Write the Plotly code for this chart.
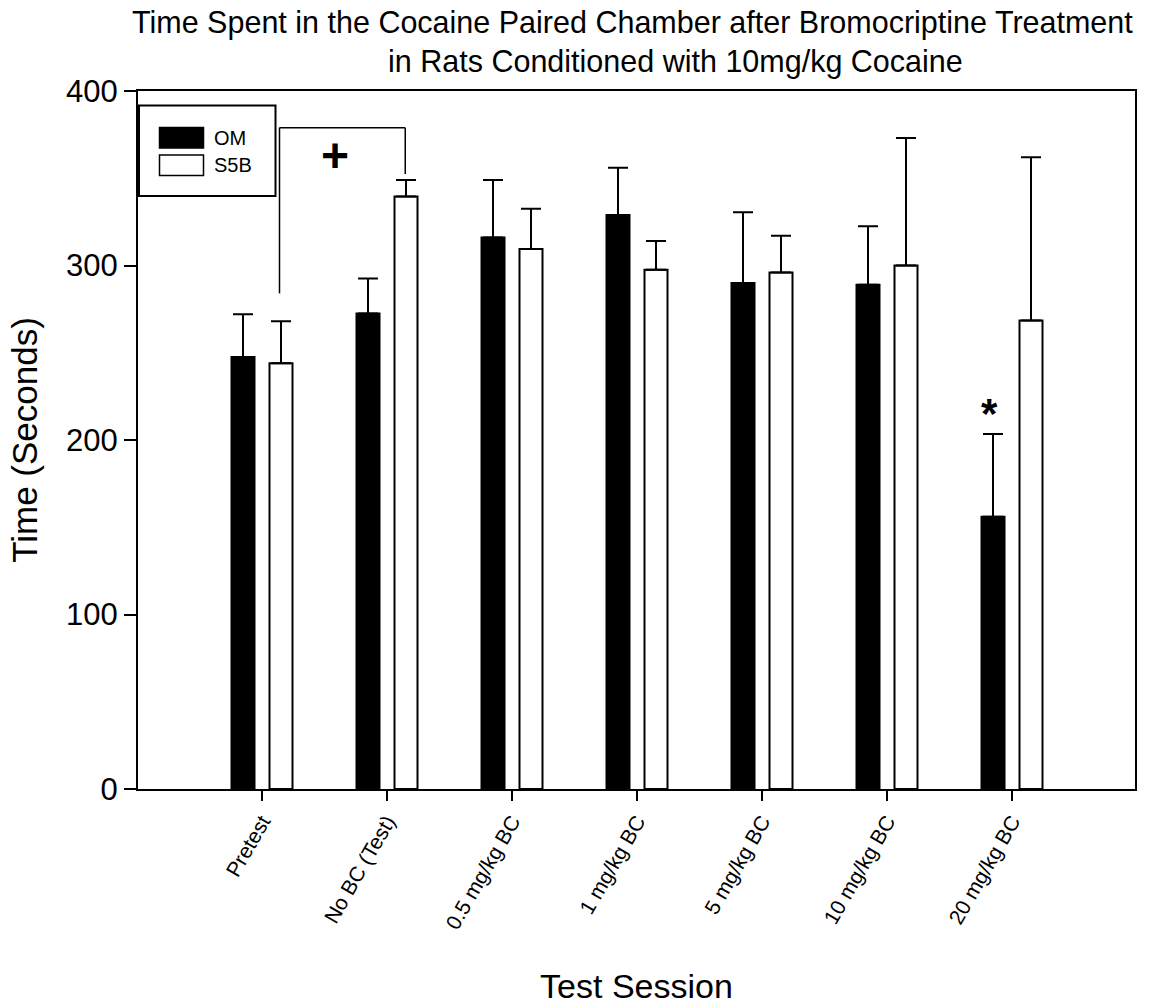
import plotly.graph_objects as go

categories = ["Pretest", "No BC (Test)", "0.5 mg/kg BC", "1 mg/kg BC",
              "5 mg/kg BC", "10 mg/kg BC", "20 mg/kg BC"]
om_mean = [247.5, 272.5, 316, 329, 290, 289, 156]
om_err = [24.5, 20, 33, 27, 40.5, 33.5, 47.5]
s5b_mean = [244, 339.5, 309.5, 297.5, 296, 300, 268.5]
s5b_err = [24, 9.5, 23, 16.5, 21, 73, 93.5]
y_ticks = [0, 100, 200, 300, 400]

FONT = "Liberation Sans, Arial, sans-serif"
W, H = 1151, 1005
L, R, T, B = 138, 16, 91, 216
PW, PH = W - L - R, H - T - B


def px(x):
    return (x - L) / PW


def py(y):
    return (H - B - y) / PH


fig = go.Figure()
fig.add_trace(go.Bar(
    x=categories, y=om_mean, name="OM",
    marker=dict(color="black", line=dict(color="black", width=2)),
    offset=-0.244, width=0.184,
    error_y=dict(type="data", array=om_err, arrayminus=[0] * len(om_err),
                 symmetric=False, color="black", thickness=2, width=10),
    showlegend=False,
))
fig.add_trace(go.Bar(
    x=categories, y=s5b_mean, name="S5B",
    marker=dict(color="white", line=dict(color="black", width=2)),
    offset=0.06, width=0.184,
    error_y=dict(type="data", array=s5b_err, arrayminus=[0] * len(s5b_err),
                 symmetric=False, color="black", thickness=2, width=10),
    showlegend=False,
))

shapes = []
# significance bracket
shapes.append(dict(type="line", xref="x", yref="y", x0=0.14, x1=0.14, y0=284, y1=379,
                   line=dict(color="black", width=1.5)))
shapes.append(dict(type="line", xref="x", yref="y", x0=0.14, x1=1.146, y0=379, y1=379,
                   line=dict(color="black", width=1.5)))
shapes.append(dict(type="line", xref="x", yref="y", x0=1.146, x1=1.146, y0=352.5, y1=379,
                   line=dict(color="black", width=1.5)))
# legend box
shapes.append(dict(type="rect", xref="paper", yref="paper",
                   x0=px(139), x1=px(275.5), y0=py(196), y1=py(105.5),
                   line=dict(color="black", width=2), fillcolor="white", layer="above"))
shapes.append(dict(type="rect", xref="paper", yref="paper",
                   x0=px(159.5), x1=px(203.5), y0=py(148), y1=py(127.5),
                   line=dict(color="black", width=1.5), fillcolor="black", layer="above"))
shapes.append(dict(type="rect", xref="paper", yref="paper",
                   x0=px(159.5), x1=px(203.5), y0=py(175.5), y1=py(155),
                   line=dict(color="black", width=1.5), fillcolor="white", layer="above"))

annotations = [
    dict(text="OM", xref="paper", yref="paper", x=px(212), y=py(138), xanchor="left",
         yanchor="middle", showarrow=False, font=dict(family=FONT, size=20, color="black")),
    dict(text="S5B", xref="paper", yref="paper", x=px(212), y=py(165), xanchor="left",
         yanchor="middle", showarrow=False, font=dict(family=FONT, size=20, color="black")),
    dict(text="<b>+</b>", xref="x", yref="y", x=0.584, y=363, xanchor="center",
         yanchor="middle", showarrow=False, font=dict(family=FONT, size=48, color="black")),
    dict(text="<b>*</b>", xref="x", yref="y", x=5.816, y=215, xanchor="center",
         yanchor="middle", showarrow=False, font=dict(family=FONT, size=42, color="black")),
    dict(text="Time Spent in the Cocaine Paired Chamber after Bromocriptine Treatment",
         xref="paper", yref="paper", x=px(632), y=py(22), xanchor="center", yanchor="middle",
         showarrow=False, font=dict(family=FONT, size=30.5, color="black")),
    dict(text="in Rats Conditioned with 10mg/kg Cocaine",
         xref="paper", yref="paper", x=px(675), y=py(62), xanchor="center", yanchor="middle",
         showarrow=False, font=dict(family=FONT, size=30.5, color="black")),
]

fig.update_layout(
    width=W, height=H,
    margin=dict(l=L, r=R, t=T, b=B, pad=0, autoexpand=False),
    paper_bgcolor="white", plot_bgcolor="white",
    barmode="overlay",
    font=dict(family=FONT, color="black"),
    shapes=shapes, annotations=annotations,
    xaxis=dict(
        type="category", range=[-0.992, 6.984], automargin=False,
        showgrid=False, zeroline=False,
        showline=True, linecolor="black", linewidth=2, mirror=True,
        ticks="outside", ticklen=10, tickwidth=2, tickcolor="black",
        tickangle=-60, tickfont=dict(family=FONT, size=21, color="black"),
        title=dict(text="Test Session", font=dict(family=FONT, size=34, color="black"),
                   standoff=50),
    ),
    yaxis=dict(
        range=[0, 400], tickvals=y_ticks, automargin=False,
        showgrid=False, zeroline=False,
        showline=True, linecolor="black", linewidth=2, mirror=True,
        ticks="outside", ticklen=12, tickwidth=2, tickcolor="black",
        tickfont=dict(family=FONT, size=31, color="black"),
        title=dict(text="Time (Seconds)", font=dict(family=FONT, size=35, color="black"),
                   standoff=18),
    ),
)

fig.write_html("out.html")
